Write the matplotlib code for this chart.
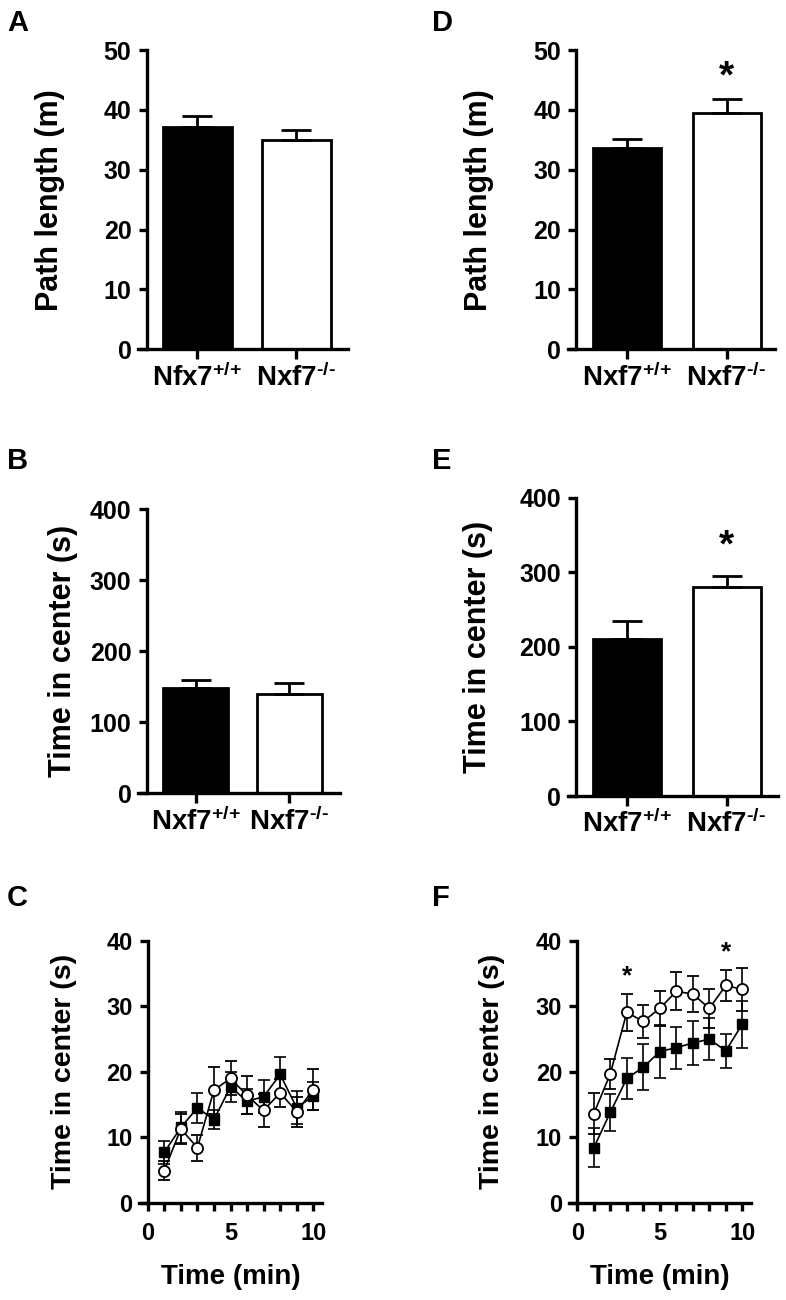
import matplotlib
matplotlib.use("Agg")
import matplotlib.pyplot as plt

# ---------------- data ----------------
groups_A = ["Nfx7$^{\\text{+/+}}$", "Nxf7$^{\\text{-/-}}$"]
groups = ["Nxf7$^{\\text{+/+}}$", "Nxf7$^{\\text{-/-}}$"]

A_means = [37.2, 34.9]
A_err = [1.8, 1.8]
B_means = [147.7, 139.7]
B_err = [11.7, 16.0]
D_means = [33.6, 39.4]
D_err = [1.6, 2.4]
E_means = [210.0, 280.7]
E_err = [24.0, 14.3]

time_min = [1, 2, 3, 4, 5, 6, 7, 8, 9, 10]
C_wt = [7.7, 11.5, 14.5, 12.7, 17.7, 15.5, 16.2, 19.6, 14.5, 16.3]
C_wt_err = [1.8, 2.3, 2.3, 1.4, 2.3, 1.9, 2.5, 2.7, 2.5, 2.1]
C_ko = [4.9, 11.3, 8.4, 17.2, 19.0, 16.4, 14.1, 16.8, 13.9, 17.3]
C_ko_err = [1.5, 2.3, 2.0, 3.6, 2.6, 2.9, 2.5, 2.1, 2.3, 3.1]

F_wt = [8.4, 13.8, 19.0, 20.7, 23.1, 23.7, 24.4, 25.0, 23.2, 27.3]
F_wt_err = [3.0, 2.8, 3.1, 3.5, 4.1, 3.2, 3.3, 3.2, 2.6, 3.6]
F_ko = [13.6, 19.7, 29.1, 27.7, 29.7, 32.3, 31.9, 29.7, 33.2, 32.6]
F_ko_err = [3.1, 2.3, 2.8, 2.5, 2.7, 2.9, 2.7, 3.0, 2.4, 3.3]
F_star_idx = [2, 8]

# ---------------- style ----------------
plt.rcParams.update({
    "font.family": ["Liberation Sans", "DejaVu Sans"],
    "font.weight": "bold",
    "axes.labelweight": "bold",
    "mathtext.fontset": "custom",
    "mathtext.rm": "Liberation Sans:bold",
    "mathtext.bf": "Liberation Sans:bold",
    "mathtext.it": "Liberation Sans:bold",
    "mathtext.sf": "Liberation Sans:bold",
    "mathtext.default": "bf",
    "axes.linewidth": 2.4,
})

W, H = 786, 1300
fig = plt.figure(figsize=(W / 100, H / 100), dpi=100)


def axes_px(left, right, top, bottom):
    return fig.add_axes([left / W, 1 - bottom / H, (right - left) / W, (bottom - top) / H])


def style_axes(ax):
    for s in ("top", "right"):
        ax.spines[s].set_visible(False)
    ax.patch.set_visible(False)


def bar_panel(c0, c1, yspine, xstart, xend, top, bottom, means, errs, ylim, yticks,
              ylabel, xlabels, label_right, width_px, star_y=None):
    s = c1 - c0
    ax = axes_px(xstart, xend, top, bottom)
    style_axes(ax)
    ax.set_xlim((xstart - c0) / s, (xend - c0) / s)
    ax.set_ylim(*ylim)
    ax.spines["left"].set_position(("data", (yspine - c0) / s))
    ax.spines["left"].set_bounds(ylim[0], ylim[1])
    pos = list(range(len(means)))
    ax.bar(pos, means, width=width_px / s, color=["black", "white"],
           edgecolor="black", linewidth=2.0, zorder=2)
    ax.errorbar(pos, means, yerr=[[0] * len(errs), errs], fmt="none", ecolor="black",
                elinewidth=2.0, capsize=11, capthick=2.0, zorder=3)
    ax.set_yticks(yticks)
    ax.set_xticks(pos)
    ax.set_xticklabels(xlabels, fontsize=20)
    ax.tick_params(axis="y", direction="out", length=6, width=2.4, labelsize=18, pad=5)
    ax.tick_params(axis="x", direction="out", length=7, width=2.4, pad=3)
    ax.set_ylabel(ylabel, fontsize=22)
    ax.yaxis.set_label_coords((label_right - xstart) / (xend - xstart), 0.5)
    if star_y is not None:
        ax.text(1, star_y, "*", ha="center", va="center", fontsize=28, fontweight="bold")
    return ax


def line_panel(x0px, x10px, top, bottom, wt, wt_err, ko, ko_err, label_right,
               xlabel_top, stars=None):
    s = (x10px - x0px) / 10.0
    ax = axes_px(x0px - 0.5 * s, x10px + 0.5 * s, top, bottom)
    style_axes(ax)
    ax.set_xlim(-0.5, 10.5)
    ax.set_ylim(0, 40)
    ax.spines["left"].set_position(("data", 0))
    ax.errorbar(time_min, wt, yerr=wt_err, fmt="-s", color="black", mfc="black", mec="black",
                ms=7, lw=1.2, elinewidth=1.2, capsize=4, capthick=1.2, zorder=3)
    ax.errorbar(time_min, ko, yerr=ko_err, fmt="-o", color="black", mfc="white", mec="black",
                mew=1.3, ms=8, lw=1.2, elinewidth=1.2, capsize=4, capthick=1.2, zorder=4)
    ax.set_yticks([0, 10, 20, 30, 40])
    ax.set_xticks(list(range(0, 11)))
    ax.set_xticklabels([str(v) if v % 5 == 0 else "" for v in range(0, 11)])
    ax.tick_params(axis="y", direction="out", length=6, width=2.4, labelsize=17, pad=5)
    ax.tick_params(axis="x", direction="out", length=6, width=2.4, labelsize=17, pad=8)
    ax.set_ylabel("Time in center (s)", fontsize=20.5)
    ax.yaxis.set_label_coords((label_right - (x0px - 0.5 * s)) / (11 * s), 0.5)
    ax.set_xlabel("Time (min)", fontsize=20)
    ax.xaxis.set_label_coords(0.5, -(xlabel_top - bottom) / (bottom - top))
    if stars:
        for i in stars:
            ax.text(time_min[i], ko[i] + ko_err[i] + 0.9, "*", ha="center", va="bottom",
                    fontsize=19, fontweight="bold")
    return ax


# A
bar_panel(197, 296, 146.7, 138, 348, 50, 349.3, A_means, A_err, (0, 50),
          [0, 10, 20, 30, 40, 50], "Path length (m)", groups_A, 65, 69)
# D
bar_panel(627, 726.5, 576.3, 568, 775, 50, 349.3, D_means, D_err, (0, 50),
          [0, 10, 20, 30, 40, 50], "Path length (m)", groups, 494, 68, star_y=45.4)
# B
bar_panel(195.5, 289, 146.7, 138, 340, 509, 793.3, B_means, B_err, (0, 400),
          [0, 100, 200, 300, 400], "Time in center (s)", groups, 78, 65)
# E
bar_panel(627, 726.5, 576.3, 568, 778, 497.7, 796, E_means, E_err, (0, 400),
          [0, 100, 200, 300, 400], "Time in center (s)", groups, 493, 68, star_y=334)
# C
line_panel(147.7, 313.3, 941, 1202.7, C_wt, C_wt_err, C_ko, C_ko_err, 77, 1264)
# F
line_panel(577.3, 742.3, 941, 1202.7, F_wt, F_wt_err, F_ko, F_ko_err, 505, 1264,
           stars=F_star_idx)

# panel letters
for letter, xp, yp in [("A", 7, 9), ("B", 7, 447), ("C", 7, 884),
                       ("D", 432, 9), ("E", 432, 447), ("F", 432, 884)]:
    fig.text(xp / W, 1 - yp / H, letter, ha="left", va="top", fontsize=21, fontweight="bold")

fig.savefig("out.png", dpi=100)
